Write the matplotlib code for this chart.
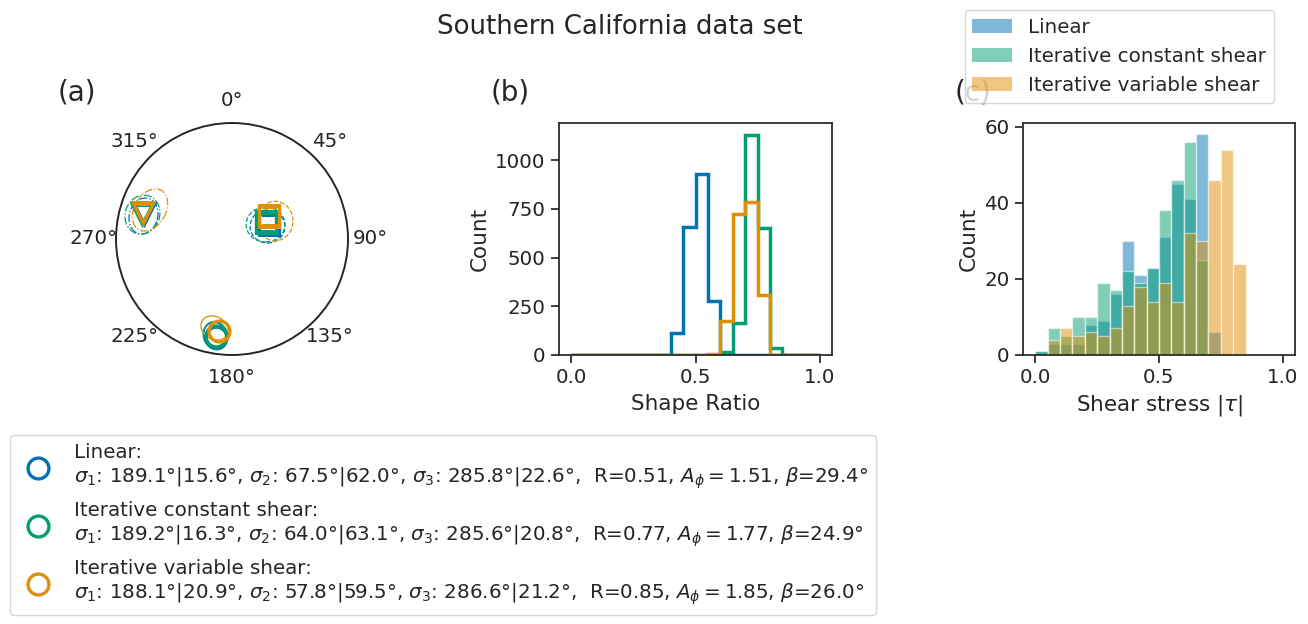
import numpy as np
from matplotlib import pyplot as plt
from matplotlib.lines import Line2D
from matplotlib.patches import Ellipse, Patch

# colorblind palette, seaborn ticks look
blue = '#0173B2'
green = '#029E73'
orange = '#DE8F05'
ink = '#262626'

names = ['Linear', 'Iterative constant shear', 'Iterative variable shear']
colors = [blue, green, orange]

# principal stress axes, azimuth / plunge in degrees
s1_az = [189.1, 189.2, 188.1]
s1_pl = [15.6, 16.3, 20.9]
s2_az = [67.5, 64.0, 57.8]
s2_pl = [62.0, 63.1, 59.5]
s3_az = [285.8, 285.6, 286.6]
s3_pl = [22.6, 20.8, 21.2]
shape_r = [0.51, 0.77, 0.85]
a_phi = [1.51, 1.77, 1.85]
beta = [29.4, 24.9, 26.0]

# confidence ellipses in disc units: x, y, major, minor, angle
s1_ell = [(-0.142, -0.837, 0.240, 0.195, 110),
          (-0.142, -0.833, 0.245, 0.210, 110),
          (-0.151, -0.767, 0.245, 0.195, 150)]
s2_ell = [(0.306, 0.108, 0.300, 0.285, 0),
          (0.289, 0.125, 0.335, 0.300, 0),
          (0.371, 0.155, 0.340, 0.310, 90)]
s3_ell = [(-0.763, 0.198, 0.315, 0.245, 75),
          (-0.772, 0.210, 0.341, 0.296, 70),
          (-0.707, 0.250, 0.390, 0.270, 60)]

# shape ratio histogram, 20 bins on 0-1
shape_linear = [0, 0, 0, 0, 0, 0, 0, 0, 114, 655, 927, 277, 0, 0, 0, 0, 0, 0, 0, 0]
shape_const = [0, 0, 0, 0, 0, 0, 0, 0, 0, 0, 0, 0, 17, 162, 1126, 651, 34, 0, 0, 0]
shape_var = [0, 0, 0, 0, 0, 0, 0, 0, 0, 0, 0, 5, 173, 723, 787, 306, 0, 0, 0, 0]

# shear stress histogram, 20 bins on 0-1
shear_linear = [1, 3, 3, 3, 8, 9, 16, 30, 21, 23, 31, 45, 41, 58, 6, 0, 0, 0, 0, 0]
shear_const = [1, 7, 5, 10, 10, 19, 17, 22, 19, 23, 38, 46, 56, 25, 0, 0, 0, 0, 0, 0]
shear_var = [0, 4, 7, 5, 6, 5, 7, 13, 18, 14, 19, 14, 32, 30, 46, 54, 24, 0, 0, 0]

edges = np.linspace(0, 1, 21)

W, H = 1308, 624
plt.rcParams['font.family'] = 'DejaVu Sans'
plt.rcParams['text.color'] = ink
plt.rcParams['axes.labelcolor'] = ink
plt.rcParams['axes.edgecolor'] = ink
plt.rcParams['xtick.color'] = ink
plt.rcParams['ytick.color'] = ink
plt.rcParams['mathtext.default'] = 'it'


def box(x0, y0, x1, y1):
    # pixel box (from the top) to figure fractions
    return [x0 / W, 1 - y1 / H, (x1 - x0) / W, (y1 - y0) / H]


def project(az, pl):
    # lower hemisphere equal area
    return np.radians(az), np.sqrt(2) * np.sin(np.radians(90 - np.array(pl)) / 2)


fig = plt.figure(figsize=(W / 100, H / 100), dpi=100)
fig.text(620 / W, 1 - 27 / H, 'Southern California data set', fontsize=18.7, ha='center', va='center')

# (a) stereonet
ax1 = fig.add_axes(box(116, 123, 348, 355), projection='polar')
ax1.set_theta_zero_location('N')
ax1.set_theta_direction(-1)
ax1.set_rlim(0, 1)
ax1.set_yticks([])
ax1.set_thetagrids(range(0, 360, 45), [f'{d}°' for d in range(0, 360, 45)])
ax1.tick_params(axis='x', labelsize=14.3, pad=5.5)
ax1.grid(False)
ax1.spines['polar'].set_linewidth(1.4)

for azs, pls, mk, ells, ls in [(s1_az, s1_pl, 'o', s1_ell, '-'),
                               (s2_az, s2_pl, 's', s2_ell, '--'),
                               (s3_az, s3_pl, 'v', s3_ell, '-.')]:
    for i in range(3):
        x, y, major, minor, ang = ells[i]
        ax1.add_patch(Ellipse((0.5 + x / 2, 0.5 + y / 2), major / 2, minor / 2, angle=ang,
                              transform=ax1.transAxes, fill=False, ec=colors[i], lw=0.9, ls=ls))
        th, r = project(azs[i], pls[i])
        ax1.plot(th, r, mk, ms=15, mfc='none', mec=colors[i], mew=2.4)

# (b) shape ratio
ax2 = fig.add_axes(box(559, 123, 832, 355))
for counts, c in zip([shape_linear, shape_const, shape_var], colors):
    ax2.stairs(counts, edges, color=c, lw=2.5, baseline=0)
ax2.set_xlim(-0.05, 1.05)
ax2.set_ylim(0, 1190)
ax2.set_yticks([0, 250, 500, 750, 1000])
ax2.set_ylabel('Count', fontsize=15.5)
ax2.set_xlabel('Shape Ratio', fontsize=15.5, labelpad=4.7)

# (c) shear stress
ax3 = fig.add_axes(box(1023, 123, 1295, 355))
for counts, c in zip([shear_linear, shear_const, shear_var], colors):
    ax3.bar(edges[:-1], counts, width=0.05, align='edge', color=c, alpha=0.5, edgecolor='white', lw=1)
ax3.set_xlim(-0.05, 1.05)
ax3.set_ylim(0, 61)
ax3.set_yticks([0, 20, 40, 60])
ax3.set_ylabel('Count', fontsize=15.5)
ax3.set_xlabel(r'Shear stress $|\tau|$', fontsize=15.5)

for ax in (ax2, ax3):
    ax.set_xticks([0, 0.5, 1.0])
    ax.tick_params(labelsize=14.3, width=1.25, length=6)
    for s in ax.spines.values():
        s.set_linewidth(1.25)

for lab, x in [('(a)', 58), ('(b)', 491), ('(c)', 955)]:
    fig.text(x / W, 1 - 92 / H, lab, fontsize=20, ha='left', va='center')

# legends
patches = [Patch(facecolor=c, edgecolor='none', alpha=0.5, label=n) for c, n in zip(colors, names)]
fig.legend(handles=patches, loc='upper right', bbox_to_anchor=(1274 / W, 1 - 10 / H),
           fontsize=14.3, borderaxespad=0)

labels = []
for i in range(3):
    labels.append(f'{names[i]}:\n'
                  f'$\\sigma_1$: {s1_az[i]:.1f}°|{s1_pl[i]:.1f}°, '
                  f'$\\sigma_2$: {s2_az[i]:.1f}°|{s2_pl[i]:.1f}°, '
                  f'$\\sigma_3$: {s3_az[i]:.1f}°|{s3_pl[i]:.1f}°,  '
                  f'R={shape_r[i]:.2f}, $A_\\phi={a_phi[i]:.2f}$, $\\beta$={beta[i]:.1f}°')
circles = [Line2D([], [], ls='none', marker='o', ms=15, mfc='none', mec=c, mew=2.4) for c in colors]
fig.legend(handles=circles, labels=labels, loc='lower left', bbox_to_anchor=(10 / W, 1 - 615 / H),
           fontsize=14.3, borderaxespad=0, labelspacing=0.5)

fig.savefig('out.png', dpi=100)
